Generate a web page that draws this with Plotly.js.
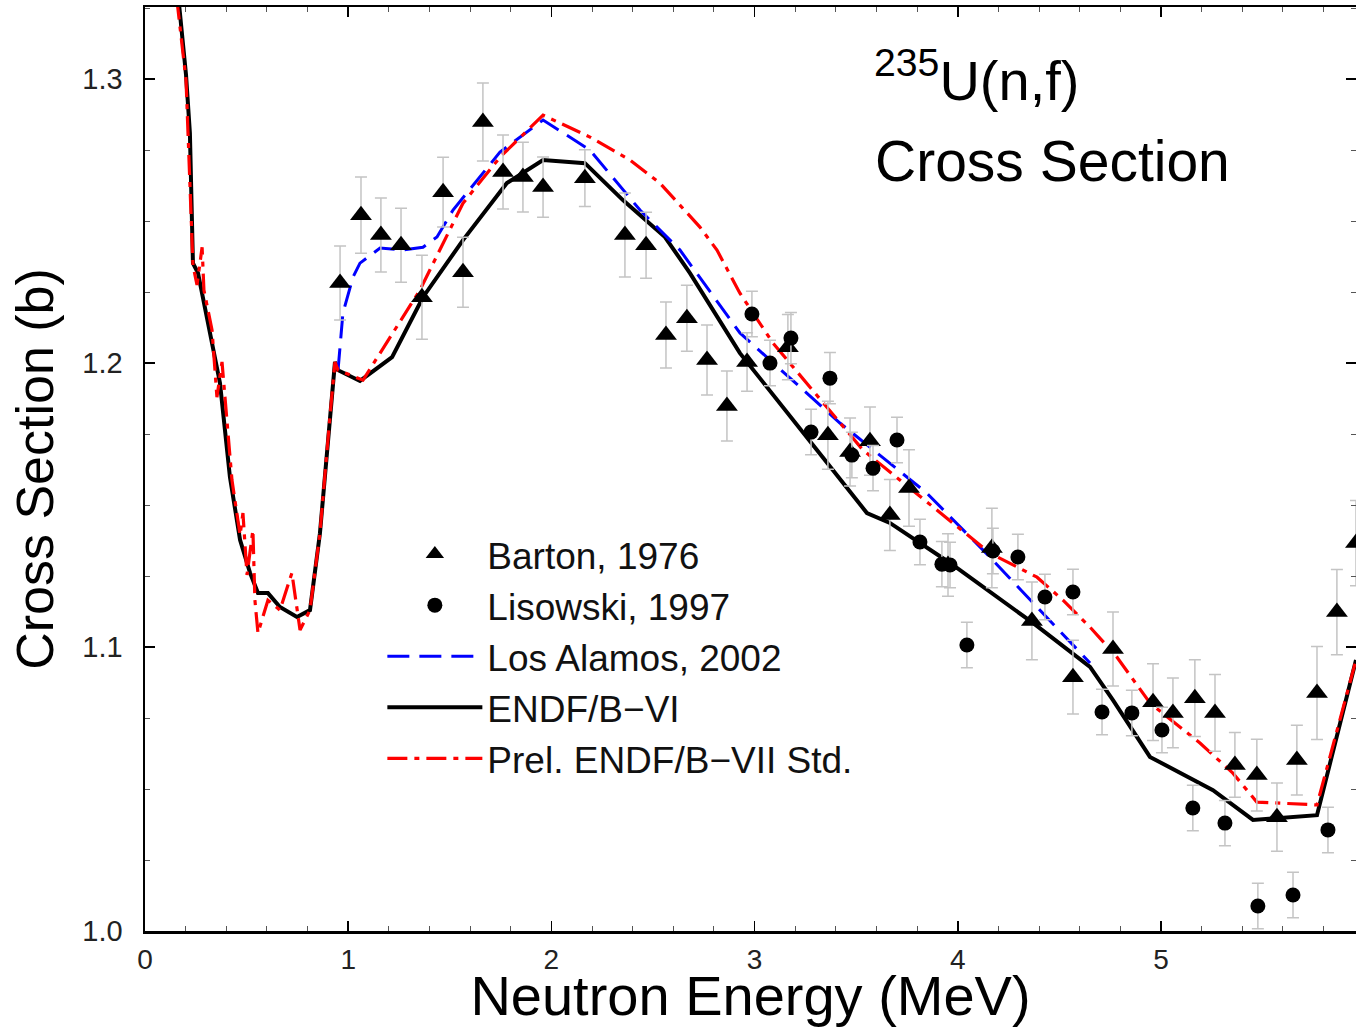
<!DOCTYPE html>
<html>
<head>
<meta charset="utf-8">
<script src="https://cdn.plot.ly/plotly-3.0.1.min.js"></script>
<style>html,body{margin:0;padding:0;background:#fff;}#chart{width:1356px;height:1027px;}</style>
</head>
<body>
<div id="chart"></div>
<script>
// ENDF/B-VI (black solid)
const endf6E = [0.167,0.202,0.221,0.236,0.261,0.320,0.369,0.418,0.468,0.517,0.556,0.605,0.664,0.748,0.812,0.861,0.910,0.935,0.950,1.058,1.216,1.368,1.565,1.781,1.959,2.165,2.352,2.559,2.682,2.928,3.307,3.553,3.666,3.962,4.370,4.651,4.764,4.946,5.256,5.453,5.768,5.960];
const endf6XS = [1.3268,1.3014,1.2810,1.2352,1.2317,1.2106,1.1930,1.1599,1.1377,1.1261,1.1190,1.1190,1.1141,1.1106,1.1130,1.1401,1.1810,1.2004,1.1975,1.1937,1.2021,1.2232,1.2433,1.2634,1.2715,1.2704,1.2574,1.2444,1.2317,1.2035,1.1694,1.1472,1.1437,1.1296,1.1085,1.0930,1.0813,1.0613,1.0496,1.0391,1.0408,1.0954];

// Prel. ENDF/B-VII Std. (red dash-dot)
const endf7E = [0.157,0.202,0.236,0.256,0.281,0.290,0.330,0.354,0.379,0.394,0.428,0.468,0.482,0.502,0.531,0.541,0.556,0.605,0.664,0.723,0.763,0.812,0.861,0.910,0.935,0.950,1.073,1.353,1.565,1.747,1.959,2.190,2.387,2.534,2.731,2.815,2.928,3.091,3.420,3.533,4.158,4.390,4.518,4.651,4.783,4.946,5.192,5.354,5.472,5.768,5.960];
const endf7XS = [1.3280,1.2996,1.2345,1.2275,1.2408,1.2257,1.2116,1.1880,1.2004,1.1870,1.1588,1.1394,1.1472,1.1254,1.1412,1.1165,1.1049,1.1165,1.1130,1.1261,1.1060,1.1130,1.1401,1.1810,1.2004,1.1975,1.1940,1.2257,1.2563,1.2725,1.2873,1.2796,1.2715,1.2634,1.2479,1.2398,1.2246,1.2070,1.1789,1.1694,1.1331,1.1246,1.1165,1.1070,1.0965,1.0803,1.0662,1.0556,1.0454,1.0444,1.0954];

// Los Alamos, 2002 (blue dashed)
const lanlE = [0.950,0.974,1.024,1.058,1.157,1.270,1.368,1.437,1.516,1.747,1.959,2.190,2.436,2.633,2.928,3.420,3.848,4.158,4.390,4.651];
const lanlXS = [1.1975,1.2176,1.2303,1.2352,1.2405,1.2398,1.2408,1.2444,1.2539,1.2743,1.2856,1.2750,1.2539,1.2398,1.2106,1.1789,1.1542,1.1317,1.1141,1.0944];

// Barton, 1976 (triangles)
const bartonE = [0.960,1.063,1.161,1.260,1.363,1.467,1.565,1.663,1.762,1.860,1.959,2.165,2.362,2.466,2.564,2.667,2.766,2.864,2.963,3.164,3.361,3.470,3.568,3.666,3.760,3.952,4.168,4.365,4.567,4.764,4.961,5.059,5.167,5.266,5.364,5.472,5.571,5.669,5.768,5.866,5.960];
const bartonXS = [1.2282,1.2521,1.2451,1.2415,1.2232,1.2602,1.2320,1.2849,1.2673,1.2655,1.2620,1.2651,1.2451,1.2415,1.2099,1.2158,1.2011,1.1849,1.2004,1.2056,1.1746,1.1687,1.1725,1.1465,1.1560,1.1289,1.1349,1.1092,1.0894,1.0993,1.0806,1.0768,1.0820,1.0768,1.0585,1.0549,1.0401,1.0602,1.0838,1.1123,1.1366];
const bartonErr = [0.013,0.0134,0.013,0.013,0.0148,0.0123,0.0123,0.0137,0.013,0.0123,0.0106,0.010,0.0148,0.0116,0.0116,0.0116,0.0123,0.0123,0.0103,0.0115,0.012,0.012,0.012,0.0125,0.0135,0.011,0.014,0.0137,0.013,0.013,0.0135,0.0123,0.0135,0.0135,0.0114,0.0126,0.012,0.0123,0.0164,0.015,0.015];

// Lisowski, 1997 (circles)
const lisowskiE = [2.987,3.076,3.179,3.278,3.371,3.479,3.583,3.701,3.814,3.922,3.962,4.045,4.173,4.296,4.429,4.567,4.710,4.857,5.005,5.157,5.315,5.477,5.650,5.822];
const lisowskiXS = [1.2173,1.2000,1.2088,1.1757,1.1947,1.1676,1.1630,1.1729,1.1370,1.1292,1.1289,1.1007,1.1338,1.1317,1.1176,1.1194,1.0771,1.0768,1.0708,1.0433,1.0380,1.0088,1.0127,1.0356];
const lisowskiErr = [0.008,0.008,0.009,0.008,0.009,0.008,0.008,0.008,0.008,0.008,0.008,0.008,0.008,0.008,0.008,0.008,0.008,0.008,0.008,0.008,0.008,0.008,0.008,0.008];

const xTickVals = [0,1,2,3,4,5];
const xTickText = ['0','1','2','3','4','5'];
const yTickVals = [1.0,1.1,1.2,1.3];
const yTickText = ['1.0','1.1','1.2','1.3'];

const FONT = 'Liberation Sans, Arial, Helvetica, sans-serif';
const errStyle = {type:'data', visible:true, color:'#c4c4c4', thickness:1.5, width:6};

const traces = [
  {x:endf6E, y:endf6XS, mode:'lines', name:'ENDF/B\u2212VI', legendrank:4,
   line:{color:'#000000', width:4}},
  {x:lanlE, y:lanlXS, mode:'lines', name:'Los Alamos, 2002', legendrank:3,
   line:{color:'#0000ff', width:3, dash:'22px,10px'}},
  {x:endf7E, y:endf7XS, mode:'lines', name:'Prel. ENDF/B\u2212VII Std.', legendrank:5,
   line:{color:'#ff0000', width:3.2, dash:'20px,7px,5px,7px'}},
  {x:bartonE, y:bartonXS, mode:'markers', name:'Barton, 1976', legendrank:1,
   marker:{symbol:'triangle-up', size:19, color:'#000000'},
   error_y:Object.assign({array:bartonErr}, errStyle)},
  {x:lisowskiE, y:lisowskiXS, mode:'markers', name:'Lisowski, 1997', legendrank:2,
   marker:{symbol:'circle', size:15, color:'#000000'},
   error_y:Object.assign({array:lisowskiErr}, errStyle)}
];

const layout = {
  width:1356, height:1027,
  margin:{l:145, r:0, t:7, b:96},
  paper_bgcolor:'#ffffff', plot_bgcolor:'#ffffff',
  font:{family:FONT, color:'#000000'},
  showlegend:true,
  legend:{x:0.196, y:0.441, xanchor:'left', yanchor:'top', bgcolor:'rgba(0,0,0,0)',
          font:{size:37, family:FONT, color:'#111'}, itemwidth:95, tracegroupgap:0},
  xaxis:{range:[0,5.96], tickvals:xTickVals, ticktext:xTickText,
         ticks:'inside', ticklen:10, tickwidth:1.5, tickcolor:'#000',
         showline:true, linewidth:2.5, linecolor:'#000', mirror:'ticks',
         showgrid:false, zeroline:false, ticklabelstandoff:2,
         tickfont:{size:28, family:FONT, color:'#222'},
         minor:{dtick:0.2, ticks:'inside', ticklen:5, tickwidth:1, tickcolor:'#555', showgrid:false},
         title:{text:'Neutron Energy (MeV)', font:{size:56, family:FONT, color:'#000'}, standoff:8}},
  yaxis:{range:[1.0,1.3254], tickvals:yTickVals, ticktext:yTickText,
         ticks:'inside', ticklen:10, tickwidth:1.5, tickcolor:'#000',
         showline:true, linewidth:2.5, linecolor:'#000', mirror:'ticks',
         showgrid:false, zeroline:false, ticklabelstandoff:14,
         tickfont:{size:29, family:FONT, color:'#222'},
         minor:{dtick:0.025, ticks:'inside', ticklen:5, tickwidth:1, tickcolor:'#555', showgrid:false},
         title:{text:'Cross Section (b)', font:{size:52, family:FONT, color:'#000'}, standoff:12}},
  annotations:[
    {xref:'paper', yref:'paper', x:0.600, y:(931-76)/924, xanchor:'left', yanchor:'middle',
     text:'<sup>235</sup>U(n,f)', showarrow:false, align:'left',
     font:{size:56, family:FONT, color:'#000'}},
    {xref:'paper', yref:'paper', x:0.601, y:(931-161)/924, xanchor:'left', yanchor:'middle',
     text:'Cross Section', showarrow:false, align:'left',
     font:{size:57, family:FONT, color:'#000'}}
  ]
};

Plotly.newPlot('chart', traces, layout, {displayModeBar:false, staticPlot:true});
</script>
</body>
</html>
